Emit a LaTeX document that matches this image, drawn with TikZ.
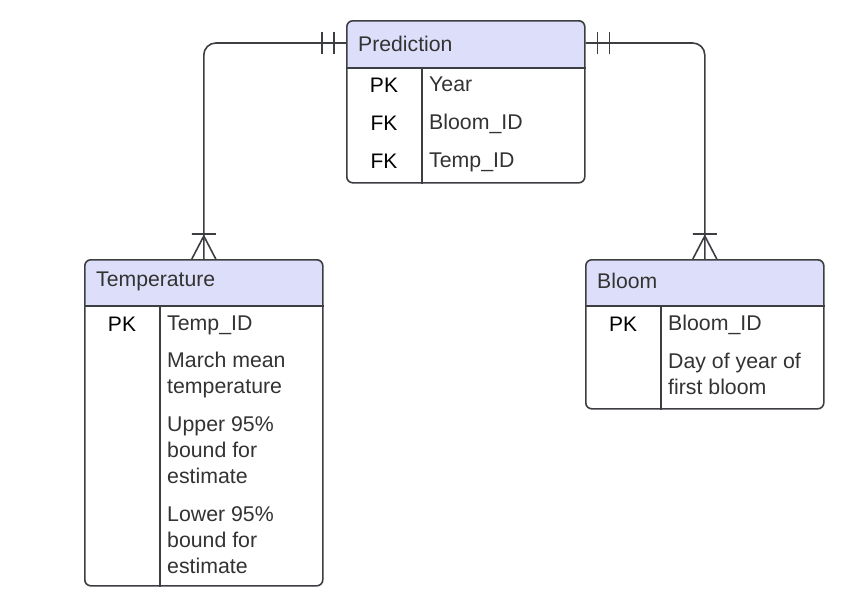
\documentclass[tikz,border=0pt]{standalone}
\usepackage{fontspec}
\setmainfont{Liberation Sans}
\usetikzlibrary{positioning}

\definecolor{hdrfill}{RGB}{221,222,250}
\definecolor{linegray}{RGB}{60,62,66}
\definecolor{txtgray}{RGB}{51,51,51}

\tikzset{
    entity/.style={draw=linegray, line width=1.6pt, rounded corners=6pt, fill=white,
        anchor=north west, inner sep=0pt},
    keytext/.style={text=black, yshift=-1pt, font=\fontsize{21}{26}\selectfont},
    fieldtext/.style={text=txtgray, anchor=west, align=left, inner sep=0pt, yshift=-2pt,
        font=\fontsize{21.3}{26}\selectfont},
    titletext/.style={text=txtgray, anchor=west, inner sep=0pt, yshift=-1pt,
        font=\fontsize{21.2}{26}\selectfont},
    rel/.style={draw=linegray, line width=1.6pt},
}

\begin{document}
\begin{tikzpicture}[x=1pt, y=-1pt]
    \useasboundingbox (0,0) rectangle (846,598);

    % Prediction
    \node[entity, minimum width=238pt, minimum height=162pt,
        path picture={\fill[hdrfill] (path picture bounding box.north west)
            rectangle ([yshift=-48pt]path picture bounding box.north east);}]
        (pred) at (346,20) {};
    \draw[rel] ([yshift=-48pt]pred.north west) -- ([yshift=-48pt]pred.north east)
    ([xshift=76pt,yshift=-48pt]pred.north west) -- ([xshift=76pt]pred.south west);

    \node[titletext] (predtitle) at (358,43) {Prediction};
    \node[keytext] (predk1) at (384,84) {PK};
    \node[keytext] (predk2) at (384,122) {FK};
    \node[keytext] (predk3) at (384,160) {FK};
    \node[fieldtext] (predf1) at (429,82) {Year};
    \node[fieldtext] (predf2) at (429,122) {Bloom\_ID};
    \node[fieldtext] (predf3) at (429,160) {Temp\_ID};

    % Temperature
    \node[entity, minimum width=238pt, minimum height=326pt,
        path picture={\fill[hdrfill] (path picture bounding box.north west)
            rectangle ([yshift=-47pt]path picture bounding box.north east);}]
        (temp) at (84,259) {};
    \draw[rel] ([yshift=-47pt]temp.north west) -- ([yshift=-47pt]temp.north east)
    ([xshift=76pt,yshift=-47pt]temp.north west) -- ([xshift=76pt]temp.south west);

    \node[titletext] (temptitle) at (96,280) {Temperature};
    \node[keytext] (tempk1) at (122,323) {PK};
    \node[fieldtext] (tempf1) at (167,323) {Temp\_ID};
    \node[fieldtext] (tempf2) at (167,373) {March mean\\temperature};
    \node[fieldtext] (tempf3) at (167,448) {Upper 95\%\\bound for\\estimate};
    \node[fieldtext] (tempf4) at (167,538) {Lower 95\%\\bound for\\estimate};

    % Bloom
    \node[entity, minimum width=238pt, minimum height=149pt,
        path picture={\fill[hdrfill] (path picture bounding box.north west)
            rectangle ([yshift=-47pt]path picture bounding box.north east);}]
        (bloom) at (585,259) {};
    \draw[rel] ([yshift=-47pt]bloom.north west) -- ([yshift=-47pt]bloom.north east)
    ([xshift=76pt,yshift=-47pt]bloom.north west) -- ([xshift=76pt]bloom.south west);

    \node[titletext] (bloomtitle) at (597,280) {Bloom};
    \node[keytext] (bloomk1) at (623,323) {PK};
    \node[fieldtext] (bloomf1) at (668,323) {Bloom\_ID};
    \node[fieldtext] (bloomf2) at (668,372) {Day of year of\\first bloom};

    % relationships
    \coordinate (predl) at ([yshift=-23pt]pred.north west);
    \coordinate (predr) at ([yshift=-23pt]pred.north east);

    \draw[rel, rounded corners=12pt] (predl) -| (temp.north);
    \draw[rel] ([xshift=-12pt,yshift=-11pt]predl) -- ([xshift=-12pt,yshift=11pt]predl)
    ([xshift=-24pt,yshift=-11pt]predl) -- ([xshift=-24pt,yshift=11pt]predl);
    \draw[rel] ([xshift=-12pt,yshift=25pt]temp.north) -- ([xshift=12pt,yshift=25pt]temp.north)
    ([xshift=-12pt]temp.north) -- ([yshift=23pt]temp.north) -- ([xshift=12pt]temp.north);

    \draw[rel, rounded corners=12pt] (predr) -| (bloom.north);
    \draw[rel] ([xshift=12pt,yshift=-11pt]predr) -- ([xshift=12pt,yshift=11pt]predr)
    ([xshift=24pt,yshift=-11pt]predr) -- ([xshift=24pt,yshift=11pt]predr);
    \draw[rel] ([xshift=-12pt,yshift=25pt]bloom.north) -- ([xshift=12pt,yshift=25pt]bloom.north)
    ([xshift=-12pt]bloom.north) -- ([yshift=23pt]bloom.north) -- ([xshift=12pt]bloom.north);

\end{tikzpicture}
\end{document}
